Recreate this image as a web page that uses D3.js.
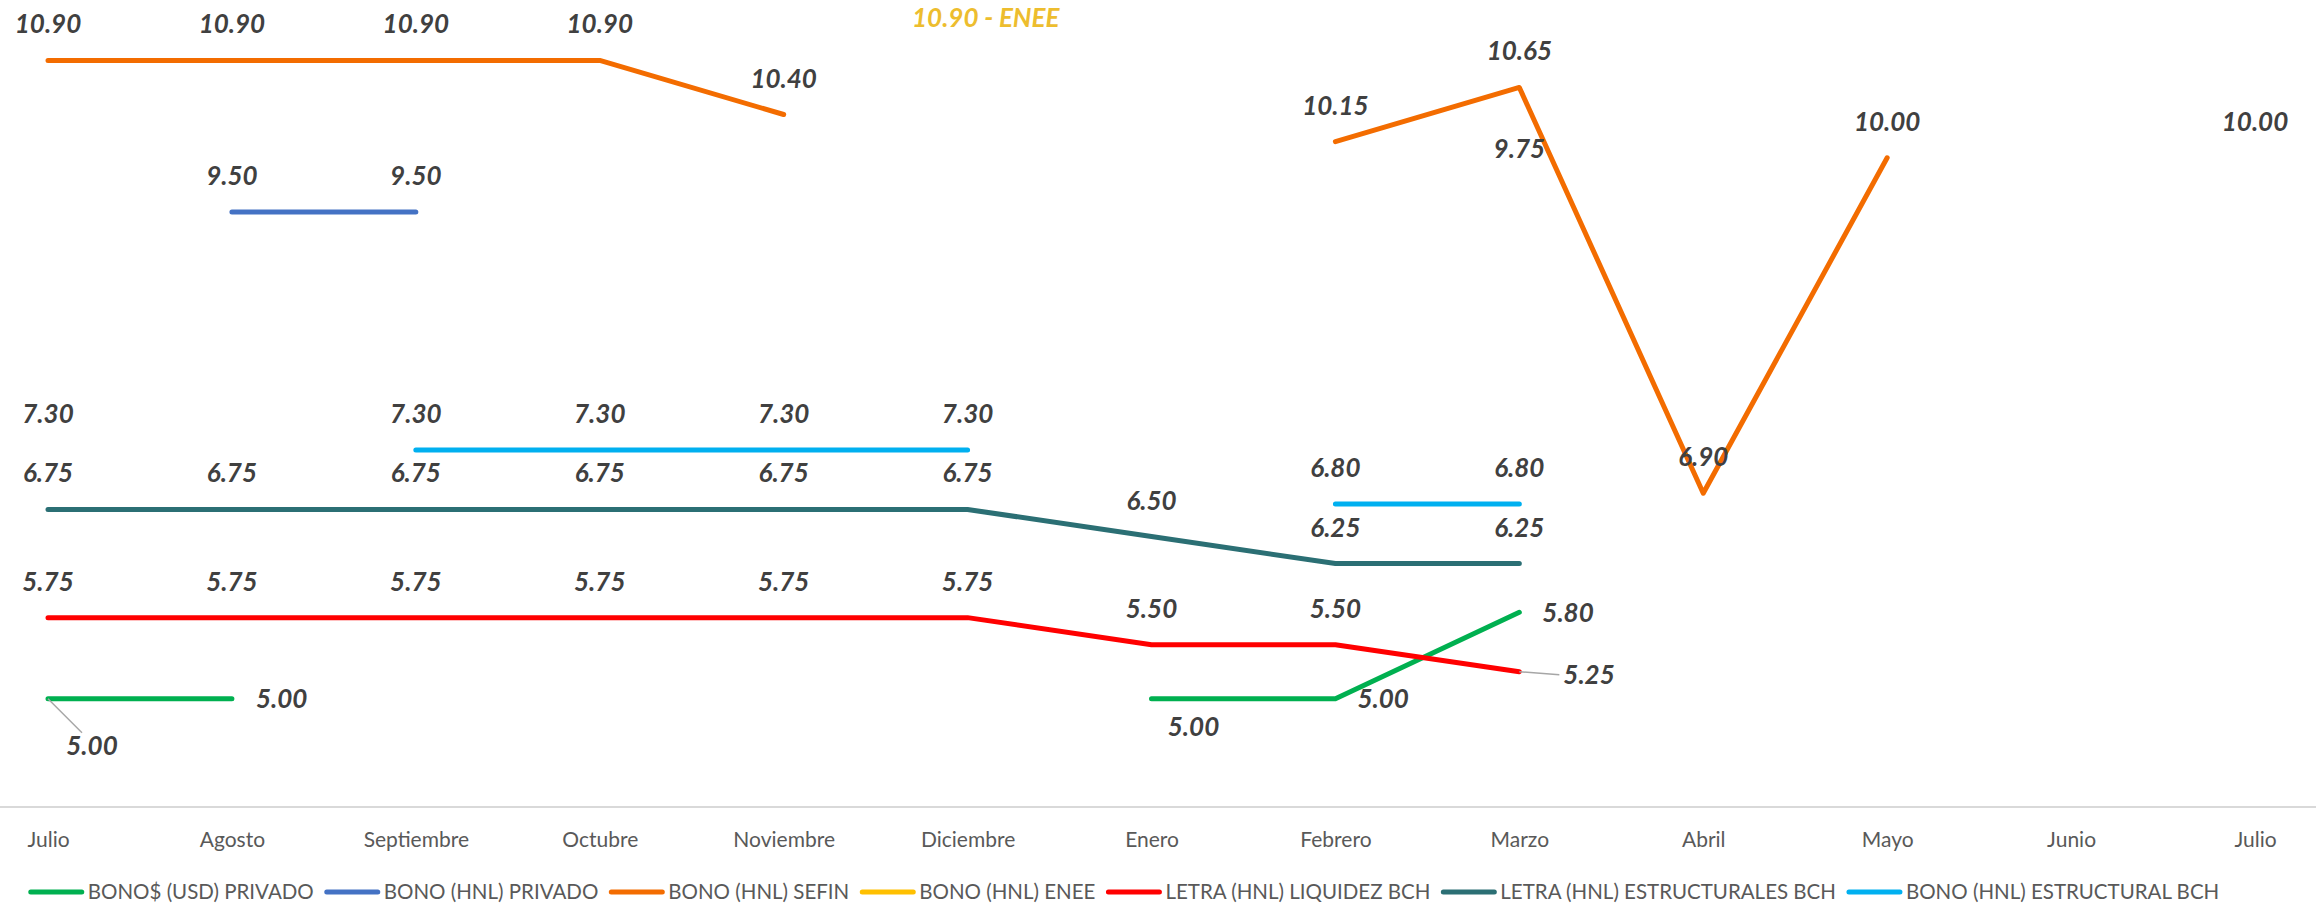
<!DOCTYPE html>
<html>
<head>
<meta charset="utf-8">
<script src="https://cdn.jsdelivr.net/npm/d3@7"></script>
<style>
  html, body { margin: 0; padding: 0; background: #fff; }
  #chart { width: 2316px; height: 906px; }
  .point-label { font-family: Lato, "Open Sans", sans-serif; font-weight: 700; font-style: italic; font-size: 26px; fill: #404040; }
  .month-label { font-family: Lato, "Open Sans", sans-serif; font-size: 21px; fill: #595959; }
  .legend-label { font-family: Lato, "Open Sans", sans-serif; font-size: 20.5px; fill: #595959; }
</style>
</head>
<body>
<div id="chart"></div>
<script>
const months = ["Julio", "Agosto", "Septiembre", "Octubre", "Noviembre", "Diciembre",
  "Enero", "Febrero", "Marzo", "Abril", "Mayo", "Junio", "Julio"];

const seriesNames = ["BONO$ (USD) PRIVADO", "BONO (HNL) PRIVADO", "BONO (HNL) SEFIN",
  "BONO (HNL) ENEE", "LETRA (HNL) LIQUIDEZ BCH", "LETRA (HNL) ESTRUCTURALES BCH",
  "BONO (HNL) ESTRUCTURAL BCH"];
const seriesColors = ["#00B050", "#4472C4", "#F36C00", "#FFC000", "#FF0000", "#2B6F74", "#00B0F0"];

const usdPrivado = [5.00, 5.00, null, null, null, null, 5.00, 5.00, 5.80, null, null, null, null];
const hnlPrivado = [null, 9.50, 9.50, null, null, null, null, null, 9.75, null, null, null, null];
const sefin = [10.90, 10.90, 10.90, 10.90, 10.40, null, null, 10.15, 10.65, 6.90, 10.00, null, 10.00];
const enee = [null, null, null, null, null, null, null, null, null, null, null, null, null];
const liquidez = [5.75, 5.75, 5.75, 5.75, 5.75, 5.75, 5.50, 5.50, 5.25, null, null, null, null];
const estructurales = [6.75, 6.75, 6.75, 6.75, 6.75, 6.75, 6.50, 6.25, 6.25, null, null, null, null];
const estructural = [7.30, null, 7.30, 7.30, 7.30, 7.30, null, 6.80, 6.80, null, null, null, null];

const seriesValues = [usdPrivado, hnlPrivado, sefin, enee, liquidez, estructurales, estructural];

// labels that Excel moved away from the default "above" spot
const labelMoves = {
  "0-0": { dx: 44, dy: 47, anchor: "middle", leader: true },
  "0-1": { dx: 24, dy: 0, anchor: "start" },
  "0-6": { dx: 42, dy: 28, anchor: "middle" },
  "0-7": { dx: 22, dy: 0, anchor: "start" },
  "0-8": { dx: 23, dy: 1, anchor: "start" },
  "4-8": { dx: 44, dy: 3, anchor: "start", leader: true }
};

const enneNote = "10.90 - ENEE";

const width = 2316;
const height = 906;

const series = seriesNames.map(function (name, i) {
  return { name: name, color: seriesColors[i], values: seriesValues[i] };
});

const x = d3.scalePoint()
  .domain(d3.range(months.length))
  .range([48, 2255]);

const y = d3.scaleLinear()
  .domain([4, 11.5])
  .range([807, -4.5]);

const svg = d3.select("#chart")
  .append("svg")
  .attr("width", width)
  .attr("height", height)
  .attr("viewBox", [0, 0, width, height]);

// category axis
const axis = svg.append("g")
  .attr("transform", `translate(0,${y(4)})`)
  .call(d3.axisBottom(x)
    .tickSize(0)
    .tickPadding(25)
    .tickFormat(function (i) { return months[i]; }));

axis.select(".domain").remove();
axis.selectAll("text")
  .attr("class", "month-label")
  .attr("font-family", null)
  .attr("font-size", null)
  .attr("fill", null);

svg.append("line")
  .attr("x1", 0)
  .attr("x2", width)
  .attr("y1", y(4))
  .attr("y2", y(4))
  .attr("stroke", "#D9D9D9")
  .attr("stroke-width", 2);

// a lone value (gap on both sides) has no line in Excel, only its label
function joined(values, i) {
  if (values[i] === null) return false;
  const prev = i > 0 && values[i - 1] !== null;
  const next = i < values.length - 1 && values[i + 1] !== null;
  return prev || next;
}

svg.append("g")
  .selectAll("path")
  .data(series)
  .join("path")
  .attr("d", function (s) {
    return d3.line()
      .defined(function (d, i) { return joined(s.values, i); })
      .x(function (d, i) { return x(i); })
      .y(function (d) { return y(d); })(s.values);
  })
  .attr("fill", "none")
  .attr("stroke", function (s) { return s.color; })
  .attr("stroke-width", 5)
  .attr("stroke-linecap", "round")
  .attr("stroke-linejoin", "round");

// data labels
const labelData = [];
series.forEach(function (s, si) {
  s.values.forEach(function (v, i) {
    if (v !== null) {
      labelData.push({ key: `${si}-${i}`, value: v, px: x(i), py: y(v) });
    }
  });
});

const labelGroup = svg.append("g");

labelData.forEach(function (d) {
  const move = labelMoves[d.key];
  let tx = d.px;
  let ty = d.py - 27;
  let anchor = "middle";

  if (move) {
    tx = d.px + move.dx;
    ty = d.py + move.dy + 9;
    anchor = move.anchor;

    if (move.leader) {
      const lx = move.anchor === "start" ? tx - 4 : tx - 10;
      const ly = move.anchor === "start" ? ty - 9 : ty - 22;
      labelGroup.append("line")
        .attr("x1", d.px)
        .attr("y1", d.py)
        .attr("x2", lx)
        .attr("y2", ly)
        .attr("stroke", "#A6A6A6")
        .attr("stroke-width", 1.5);
    }
  }

  labelGroup.append("text")
    .attr("class", "point-label")
    .attr("x", tx)
    .attr("y", ty)
    .attr("text-anchor", anchor)
    .text(d3.format(".2f")(d.value));
});

svg.append("text")
  .attr("class", "point-label")
  .attr("x", 912)
  .attr("y", 27)
  .style("fill", "#EDBD2E")
  .text(enneNote);

// legend, centred under the axis
const legend = svg.append("g");
const swatch = 55;
let cursor = 0;

series.forEach(function (s) {
  const item = legend.append("g").attr("transform", `translate(${cursor},0)`);
  item.append("line")
    .attr("x1", 2)
    .attr("x2", swatch - 2)
    .attr("y1", 892)
    .attr("y2", 892)
    .attr("stroke", s.color)
    .attr("stroke-width", 5)
    .attr("stroke-linecap", "round");
  const label = item.append("text")
    .attr("class", "legend-label")
    .attr("x", swatch + 4)
    .attr("y", 899)
    .text(s.name);
  cursor += swatch + 4 + label.node().getComputedTextLength() + 11;
});

const legendWidth = cursor - 11;
legend.attr("transform", `translate(${1124 - legendWidth / 2},0)`);
</script>
</body>
</html>
